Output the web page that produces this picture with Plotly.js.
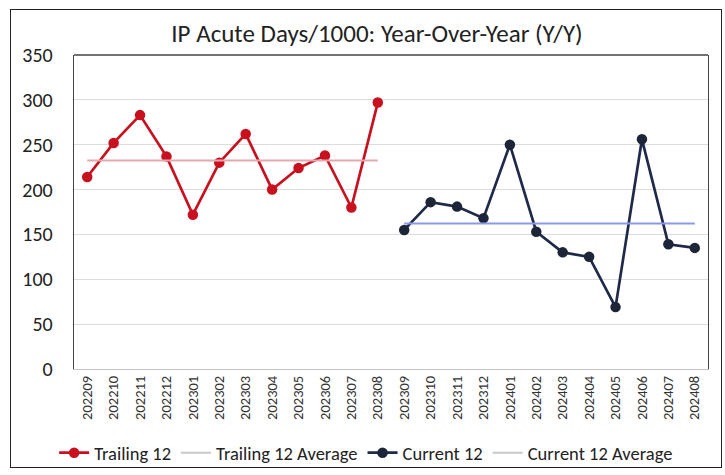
<!DOCTYPE html>
<html>
<head>
<meta charset="utf-8">
<script src="https://cdn.plot.ly/plotly-3.0.1.min.js"></script>
<style>
  html, body { margin: 0; padding: 0; background: #fff; }
  #frame { position: absolute; left: 10px; top: 9px; width: 710px; height: 457px; border: 1.5px solid #222; background: #fff; }
  #chart { position: absolute; left: 0; top: 0; width: 725px; height: 475px; }
</style>
</head>
<body>
<div id="frame"></div>
<div id="chart"></div>
<script>
const categories = ["202209","202210","202211","202212","202301","202302","202303","202304","202305","202306","202307","202308",
                    "202309","202310","202311","202312","202401","202402","202403","202404","202405","202406","202407","202408"];
const trailingCats = categories.slice(0, 12);
const currentCats = categories.slice(12);
const trailing12 = [214, 252, 283, 237, 172, 230, 262, 200, 224, 238, 180, 297];
const current12 = [155, 186, 181, 168, 250, 153, 130, 125, 69, 256, 139, 135];
const trailingAvg = 232.4;
const currentAvg = 162.3;
const yTicks = [0, 50, 100, 150, 200, 250, 300, 350];

const font = "Carlito, 'Liberation Sans Narrow', 'Open Sans', sans-serif";

const traces = [
  { x: trailingCats, y: trailing12, name: "Trailing 12", type: "scatter", mode: "lines+markers", legendrank: 1,
    line: { color: "#c8101e", width: 2.7 }, marker: { color: "#c8101e", size: 10.5 } },
  { x: trailingCats, y: trailingCats.map(() => trailingAvg), name: "Trailing 12 Average", type: "scatter", mode: "lines",
    showlegend: false, line: { color: "#e3a9ae", width: 2 } },
  { x: [null], y: [null], name: "Trailing 12 Average", type: "scatter", mode: "lines", legendrank: 2,
    line: { color: "#c9c9c9", width: 2 } },
  { x: currentCats, y: current12, name: "Current 12", type: "scatter", mode: "lines+markers", legendrank: 3,
    line: { color: "#1f2a4a", width: 2.7 }, marker: { color: "#1c2638", size: 10.5 } },
  { x: currentCats, y: currentCats.map(() => currentAvg), name: "Current 12 Average", type: "scatter", mode: "lines",
    showlegend: false, line: { color: "#8a9ae6", width: 2 } },
  { x: [null], y: [null], name: "Current 12 Average", type: "scatter", mode: "lines", legendrank: 4,
    line: { color: "#c9c9c9", width: 2 } }
];

const layout = {
  width: 725, height: 475,
  margin: { l: 74, r: 17, t: 55, b: 106 },
  paper_bgcolor: "rgba(0,0,0,0)", plot_bgcolor: "rgba(0,0,0,0)",
  font: { family: font, color: "#222" },
  title: { text: "IP Acute Days/1000: Year-Over-Year (Y/Y)", font: { family: font, size: 25, color: "#222" },
           x: 0.52, xanchor: "center", y: 0.93, yanchor: "middle" },
  xaxis: { type: "category", categoryorder: "array", categoryarray: categories, range: [-0.5, 23.5],
           tickangle: -90, tickfont: { size: 14.5, color: "#333" }, showgrid: false, automargin: false,
           showline: true, linecolor: "#c4c4c4", linewidth: 1, mirror: false, ticks: "", zeroline: false },
  yaxis: { range: [0, 350], tickvals: yTicks, ticktext: yTicks.map(String), tickfont: { size: 20, color: "#222" },
           showgrid: true, gridcolor: "#dcdcdc", gridwidth: 1, ticks: "", ticklabelstandoff: 16, automargin: false,
           showline: true, linecolor: "#444", linewidth: 1.3, mirror: true, zeroline: false },
  shapes: [
    { type: "line", xref: "paper", yref: "paper", x0: 0, x1: 1, y0: 1, y1: 1, line: { color: "#444", width: 1.3 } }
  ],
  showlegend: true,
  legend: { orientation: "h", xref: "container", yref: "container", x: 0.505, xanchor: "center", y: 0.046, yanchor: "middle",
            font: { size: 18.5, color: "#222", family: font }, itemwidth: 30, tracegroupgap: 0,
            traceorder: "normal", bgcolor: "rgba(0,0,0,0)" }
};

Plotly.newPlot("chart", traces, layout, { displayModeBar: false, staticPlot: true });
</script>
</body>
</html>
